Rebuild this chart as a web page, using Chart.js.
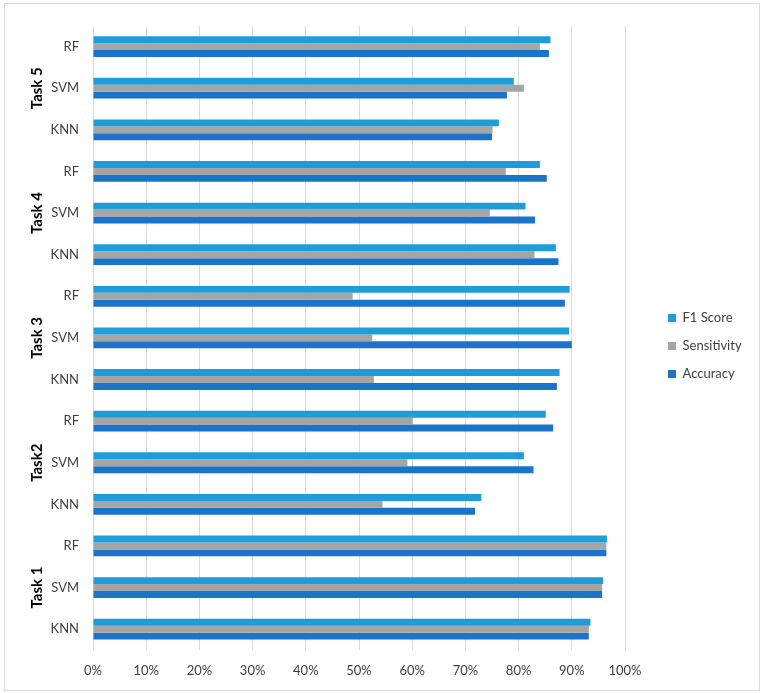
<!DOCTYPE html>
<html>
<head>
<meta charset="utf-8">
<script src="https://cdn.jsdelivr.net/npm/chart.js@4.4.1/dist/chart.umd.min.js"></script>
<style>
  body { margin: 0; background: #fff; }
  #wrap { position: absolute; left: 4px; top: 3px; width: 754px; height: 686px; border: 1px solid #d9d9d9; }
</style>
</head>
<body>
<div id="wrap"><canvas id="mycanvas"></canvas></div>
<script>
// values in %, order: Task 1 KNN, SVM, RF, Task2 KNN, ... Task 5 RF
var tasks = ['Task 1', 'Task2', 'Task 3', 'Task 4', 'Task 5'];
var models = ['KNN', 'SVM', 'RF'];
var accuracy    = [93.2, 95.7, 96.5, 71.8, 82.8, 86.5, 87.2, 90.0, 88.7, 87.5, 83.1, 85.3, 75.0, 77.8, 85.7];
var sensitivity = [93.2, 95.7, 96.5, 54.4, 59.1, 60.1, 52.8, 52.5, 48.8, 83.0, 74.6, 77.6, 75.1, 81.0, 84.0];
var f1Score     = [93.5, 95.9, 96.6, 73.0, 81.0, 85.1, 87.7, 89.5, 89.6, 87.0, 81.3, 84.0, 76.3, 79.1, 86.0];
var xTicks = [0, 10, 20, 30, 40, 50, 60, 70, 80, 90, 100];

var labels = [];
for (var t in tasks) {
  for (var m in models) {
    labels.push(models[m]);
  }
}

var font = "Lato, 'Open Sans', sans-serif";

// group labels (Task 1 .. Task 5) drawn vertically left of the model labels
var groupLabels = {
  id: 'groupLabels',
  afterLayout: function(chart) {
    // legend sits a bit right of the plot and slightly above centre
    if (chart.legend) {
      chart.legend.left += 28;
      chart.legend.right += 28;
      chart.legend.top -= 8;
      chart.legend.bottom -= 8;
    }
  },
  afterDraw: function(chart) {
    var y = chart.scales.y;
    var ctx = chart.ctx;
    ctx.save();
    ctx.fillStyle = '#000';
    ctx.font = "bold 15px " + font;
    ctx.textAlign = 'center';
    ctx.textBaseline = 'middle';
    for (var i = 0; i < tasks.length; i++) {
      var py = y.getPixelForValue(i * models.length + 1);
      ctx.save();
      ctx.translate(32, py);
      ctx.rotate(-Math.PI / 2);
      ctx.fillText(tasks[i], 0, 0);
      ctx.restore();
    }
    ctx.restore();
  }
};

var chartdata = {
  labels: labels,
  datasets: [
    {
      label: 'F1 Score',
      backgroundColor: '#1f9dda',
      data: f1Score
    },
    {
      label: 'Sensitivity',
      backgroundColor: '#a5a5a5',
      data: sensitivity
    },
    {
      label: 'Accuracy',
      backgroundColor: '#1a74c9',
      data: accuracy
    }
  ]
};

var ctx = document.getElementById('mycanvas');
var chart = new Chart(ctx, {
  type: 'bar',
  data: chartdata,
  plugins: [groupLabels],
  options: {
    indexAxis: 'y',
    responsive: true,
    maintainAspectRatio: false,
    animation: false,
    categoryPercentage: 0.5,
    barPercentage: 1.0,
    layout: { padding: { top: 14, right: 0, bottom: 0, left: 0 } },
    plugins: {
      tooltip: { enabled: false },
      legend: {
        position: 'right',
        align: 'center',
        labels: {
          boxWidth: 8,
          boxHeight: 8,
          padding: 15,
          color: '#404040',
          font: { family: font, size: 13 }
        }
      }
    },
    scales: {
      x: {
        min: 0,
        max: 100,
        afterBuildTicks: function(scale) {
          scale.ticks = xTicks.map(function(v) { return { value: v }; });
        },
        afterFit: function(scale) { scale.height = 40; },
        grid: { color: '#d9d9d9', drawTicks: false },
        border: { display: false },
        ticks: {
          padding: 13,
          color: '#404040',
          font: { family: font, size: 13 },
          callback: function(v) { return v + '%'; }
        }
      },
      y: {
        reverse: true,
        afterFit: function(scale) { scale.width = 88; },
        grid: { display: false, drawTicks: false },
        border: { display: false },
        ticks: {
          padding: 14,
          color: '#404040',
          font: { family: font, size: 13 },
          autoSkip: false
        }
      }
    }
  }
});

// make the legend column 134px wide so the plot ends at the 100% line
var origFit = chart.legend.fit;
chart.legend.fit = function() {
  origFit.call(this);
  this.width = 134;
};
chart.update();
</script>
</body>
</html>
